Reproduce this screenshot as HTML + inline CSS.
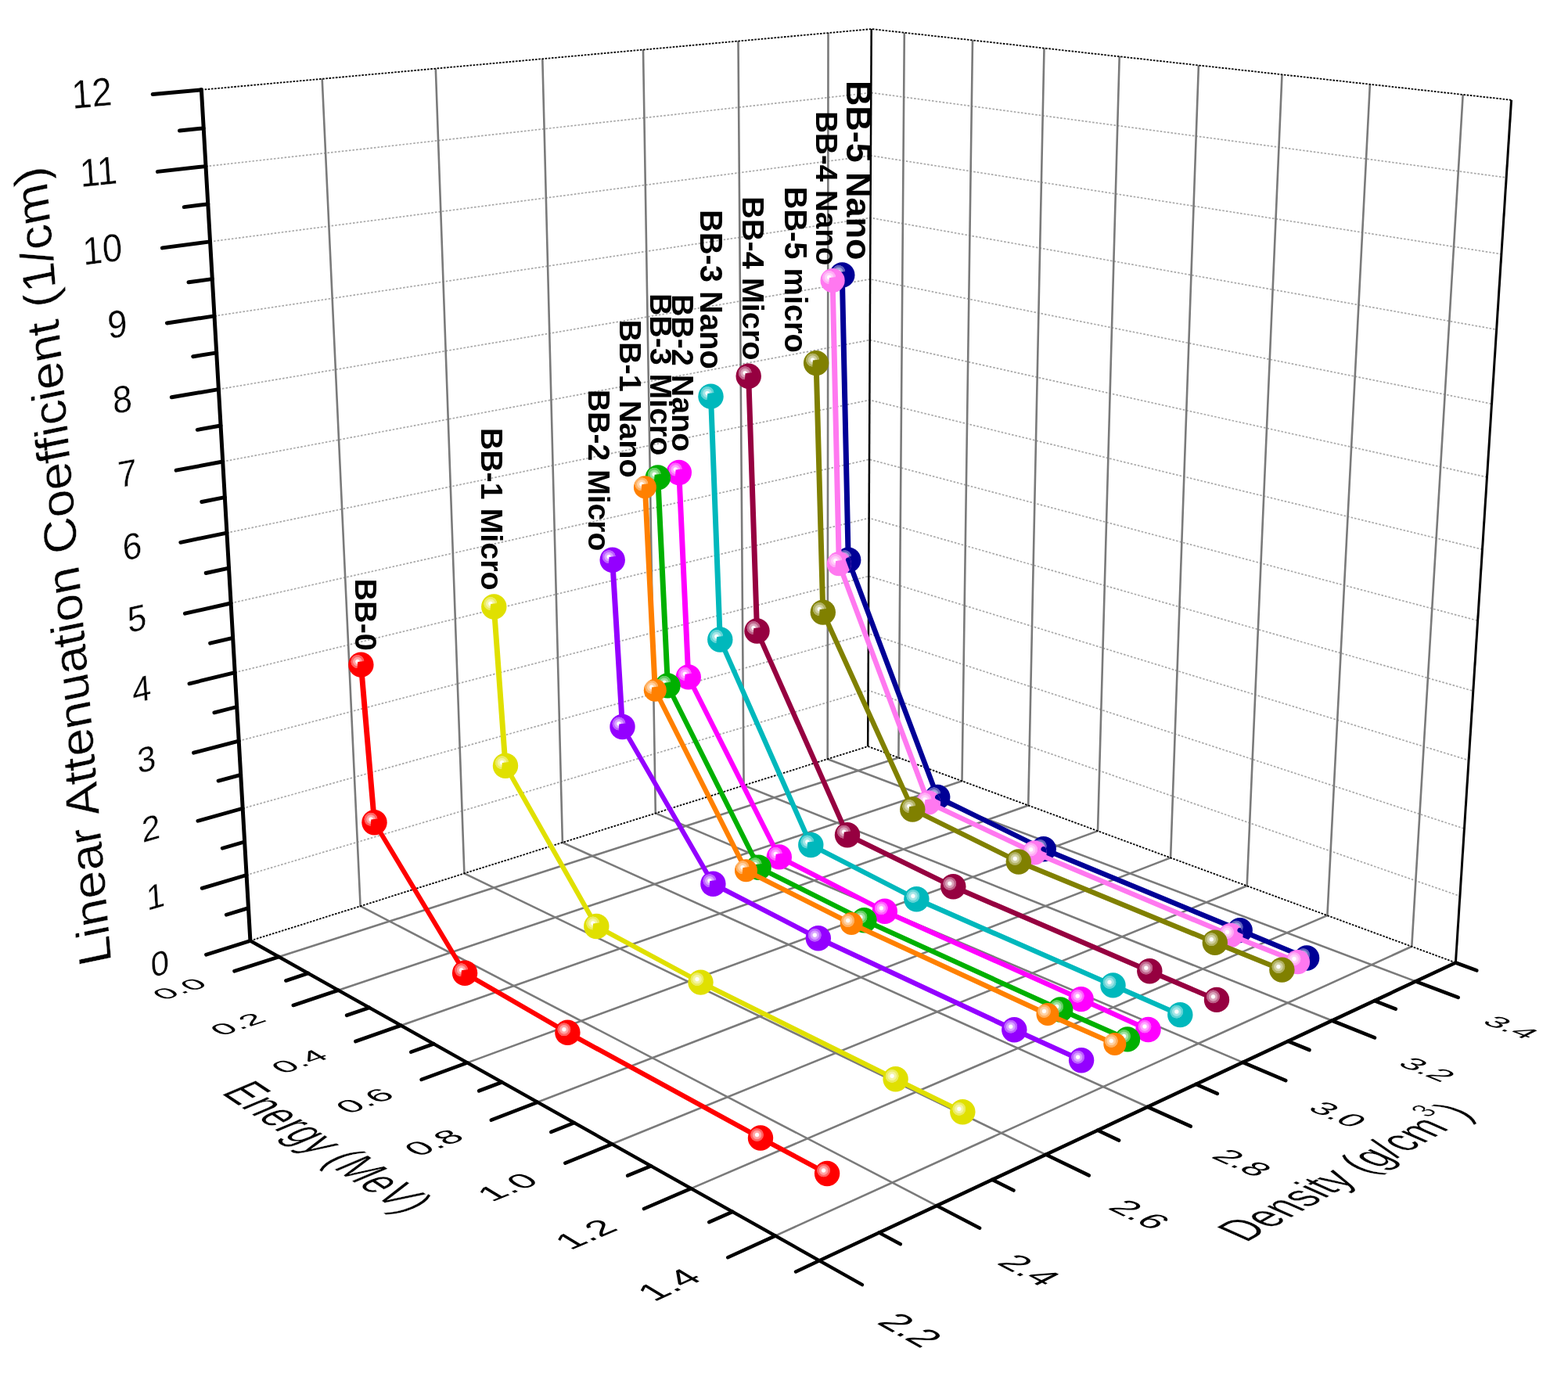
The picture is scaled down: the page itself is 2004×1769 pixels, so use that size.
<!DOCTYPE html>
<html><head><meta charset="utf-8"><title>Linear Attenuation Coefficient vs Energy and Density</title>
<style>
html,body{margin:0;padding:0;background:#fff}
#c{position:relative;width:2004px;height:1769px;overflow:hidden;background:#fff}
#c svg{position:absolute;left:0;top:0}
#c svg text{font-family:"Liberation Sans",sans-serif}
</style></head><body>
<div id="c">
<svg width="2004" height="1769" viewBox="0 0 2004 1769" role="img" aria-label="3D plot of linear attenuation coefficient versus energy and density">
<defs>
<radialGradient id="hg" gradientUnits="userSpaceOnUse" cx="-4.5" cy="-4.0" r="8.8">
<stop offset="0" stop-color="#fff" stop-opacity="1"/><stop offset="0.24" stop-color="#fff" stop-opacity="1"/>
<stop offset="0.36" stop-color="#fff" stop-opacity="0.68"/><stop offset="0.62" stop-color="#fff" stop-opacity="0.6"/>
<stop offset="0.7" stop-color="#fff" stop-opacity="0.4"/><stop offset="0.96" stop-color="#fff" stop-opacity="0.36"/>
<stop offset="1" stop-color="#fff" stop-opacity="0"/></radialGradient>
<path id="hc" d="M-4.2,-3.6 L4.3,-4.6 A8.8,8.8 0 1 0 -4.8,4.8 Z" fill="url(#hg)"/>
<circle id="hr" cx="-4.5" cy="-4.0" r="8.6" fill="url(#hg)"/>
<clipPath id="ck1"><circle cx="1072.3" cy="720.7" r="15.6"/></clipPath><clipPath id="ck2"><circle cx="1186.5" cy="1025.9" r="15.6"/></clipPath><clipPath id="ck3"><circle cx="1322.1" cy="1089.9" r="15.6"/></clipPath><clipPath id="ck4"><circle cx="1573.0" cy="1195.4" r="15.6"/></clipPath></defs>
<g fill="none" stroke="#a9a9a9" stroke-width="1.7" stroke-dasharray="2.6 2.0"><polyline points="315.0,1118.5 1109.5,882.3 1865.9,1145.4" /><polyline points="310.2,1033.3 1109.9,809.8 1871.5,1059.2" /><polyline points="305.2,947.1 1110.3,736.4 1877.1,971.8" /><polyline points="300.2,859.6 1110.6,662.2 1882.8,883.2" /><polyline points="295.1,771.0 1111.0,587.2 1888.6,793.3" /><polyline points="289.9,681.1 1111.4,511.3 1894.5,702.2" /><polyline points="284.7,590.0 1111.7,434.6 1900.5,609.9" /><polyline points="279.4,497.6 1112.1,356.9 1906.5,516.2" /><polyline points="274.0,403.9 1112.5,278.4 1912.7,421.2" /><polyline points="268.5,308.9 1112.9,198.9 1918.9,324.8" /><polyline points="263.0,212.6 1113.3,118.5 1925.2,227.0" /></g>
<g fill="none" stroke="#7a7a7a" stroke-width="2.6" stroke-linejoin="round"><polyline points="411.7,100.8 460.6,1158.2 1197.2,1541.1" /><polyline points="556.8,87.7 593.4,1116.4 1336.7,1475.8" /><polyline points="693.3,75.3 718.9,1076.9 1466.8,1414.8" /><polyline points="822.0,63.6 837.8,1039.4 1588.4,1357.9" /><polyline points="943.5,52.6 950.6,1003.9 1702.3,1304.5" /><polyline points="1058.5,42.1 1057.7,970.2 1809.3,1254.4" /><polyline points="1155.8,41.8 1148.4,968.4 356.4,1223.0" /><polyline points="1243.0,51.5 1229.5,998.3 432.3,1265.7" /><polyline points="1334.5,61.6 1314.2,1029.5 512.5,1310.7" /><polyline points="1430.7,72.3 1403.0,1062.1 597.2,1358.4" /><polyline points="1531.9,83.5 1496.1,1096.4 687.0,1408.8" /><polyline points="1638.5,95.3 1593.7,1132.3 782.1,1462.3" /><polyline points="1750.9,107.7 1696.4,1170.1 883.2,1519.1" /><polyline points="1869.7,120.9 1804.3,1209.8 990.8,1579.6" /></g>
<g fill="none" stroke="#000" stroke-width="1.8" stroke-dasharray="2.6 1.6"><polyline points="257.4,114.8 1113.7,37.1 1931.6,127.8" /><polyline points="319.9,1202.5 1109.2,954.0 1860.4,1230.5" /></g>
<line x1="1109.2" y1="954.0" x2="1113.7" y2="37.1" stroke="#000" stroke-width="2.5"/>
<line x1="1860.4" y1="1230.5" x2="1931.6" y2="127.8" stroke="#000" stroke-width="3.0"/>
<g fill="none" stroke="#000" stroke-linecap="round"><line x1="257.4" y1="114.8" x2="319.9" y2="1202.5" stroke-width="4.99"/><line x1="319.9" y1="1202.5" x2="1047.3" y2="1611.3" stroke-width="4.36"/><line x1="1047.3" y1="1611.3" x2="1860.4" y2="1230.5" stroke-width="4.53"/><line x1="319.9" y1="1202.5" x2="263.5" y2="1220.2" stroke-width="4.77"/><line x1="317.5" y1="1160.6" x2="289.3" y2="1169.2" stroke-width="4.78"/><line x1="315.0" y1="1118.5" x2="258.2" y2="1135.4" stroke-width="4.79"/><line x1="312.6" y1="1076.0" x2="284.2" y2="1084.2" stroke-width="4.80"/><line x1="310.2" y1="1033.3" x2="252.9" y2="1049.3" stroke-width="4.82"/><line x1="307.7" y1="990.3" x2="279.1" y2="998.1" stroke-width="4.83"/><line x1="305.2" y1="947.1" x2="247.5" y2="962.2" stroke-width="4.84"/><line x1="302.7" y1="903.5" x2="273.9" y2="910.8" stroke-width="4.85"/><line x1="300.2" y1="859.6" x2="242.0" y2="873.8" stroke-width="4.86"/><line x1="297.6" y1="815.4" x2="268.6" y2="822.2" stroke-width="4.87"/><line x1="295.1" y1="771.0" x2="236.4" y2="784.2" stroke-width="4.88"/><line x1="292.5" y1="726.2" x2="263.2" y2="732.5" stroke-width="4.89"/><line x1="289.9" y1="681.1" x2="230.8" y2="693.3" stroke-width="4.90"/><line x1="287.3" y1="635.7" x2="257.8" y2="641.5" stroke-width="4.91"/><line x1="284.7" y1="590.0" x2="225.1" y2="601.2" stroke-width="4.91"/><line x1="282.0" y1="544.0" x2="252.3" y2="549.3" stroke-width="4.92"/><line x1="279.4" y1="497.6" x2="219.3" y2="507.8" stroke-width="4.93"/><line x1="276.7" y1="450.9" x2="246.7" y2="455.7" stroke-width="4.94"/><line x1="274.0" y1="403.9" x2="213.4" y2="413.0" stroke-width="4.94"/><line x1="271.3" y1="356.6" x2="241.0" y2="360.8" stroke-width="4.95"/><line x1="268.5" y1="308.9" x2="207.4" y2="316.9" stroke-width="4.96"/><line x1="265.8" y1="260.9" x2="235.3" y2="264.6" stroke-width="4.96"/><line x1="263.0" y1="212.6" x2="201.4" y2="219.4" stroke-width="4.97"/><line x1="260.2" y1="163.9" x2="229.5" y2="167.0" stroke-width="4.97"/><line x1="257.4" y1="114.8" x2="195.2" y2="120.5" stroke-width="4.98"/><line x1="356.4" y1="1223.0" x2="299.6" y2="1241.2" stroke-width="4.76"/><line x1="393.8" y1="1244.0" x2="365.5" y2="1253.4" stroke-width="4.75"/><line x1="432.3" y1="1265.7" x2="374.9" y2="1284.9" stroke-width="4.74"/><line x1="471.9" y1="1287.9" x2="443.2" y2="1297.7" stroke-width="4.73"/><line x1="512.5" y1="1310.7" x2="454.5" y2="1331.1" stroke-width="4.72"/><line x1="554.3" y1="1334.2" x2="525.3" y2="1344.6" stroke-width="4.71"/><line x1="597.2" y1="1358.4" x2="538.6" y2="1379.9" stroke-width="4.69"/><line x1="641.4" y1="1383.2" x2="612.2" y2="1394.3" stroke-width="4.68"/><line x1="687.0" y1="1408.8" x2="627.8" y2="1431.7" stroke-width="4.66"/><line x1="733.8" y1="1435.2" x2="704.3" y2="1446.9" stroke-width="4.65"/><line x1="782.1" y1="1462.3" x2="722.4" y2="1486.6" stroke-width="4.63"/><line x1="831.9" y1="1490.3" x2="802.1" y2="1502.7" stroke-width="4.61"/><line x1="883.2" y1="1519.1" x2="823.0" y2="1545.0" stroke-width="4.59"/><line x1="936.2" y1="1548.9" x2="906.2" y2="1562.1" stroke-width="4.57"/><line x1="990.8" y1="1579.6" x2="930.2" y2="1607.2" stroke-width="4.55"/><line x1="1047.3" y1="1611.3" x2="1017.1" y2="1625.5" stroke-width="4.53"/><line x1="1047.3" y1="1611.3" x2="1102.0" y2="1642.1" stroke-width="4.36"/><line x1="1123.6" y1="1575.6" x2="1150.9" y2="1590.3" stroke-width="4.40"/><line x1="1197.2" y1="1541.1" x2="1252.2" y2="1569.7" stroke-width="4.44"/><line x1="1268.2" y1="1507.9" x2="1295.5" y2="1521.6" stroke-width="4.47"/><line x1="1336.7" y1="1475.8" x2="1391.8" y2="1502.4" stroke-width="4.50"/><line x1="1402.9" y1="1444.8" x2="1430.2" y2="1457.6" stroke-width="4.53"/><line x1="1466.8" y1="1414.8" x2="1521.8" y2="1439.7" stroke-width="4.56"/><line x1="1528.6" y1="1385.9" x2="1555.9" y2="1397.8" stroke-width="4.58"/><line x1="1588.4" y1="1357.9" x2="1643.3" y2="1381.2" stroke-width="4.60"/><line x1="1646.3" y1="1330.8" x2="1673.5" y2="1342.0" stroke-width="4.62"/><line x1="1702.3" y1="1304.5" x2="1757.0" y2="1326.3" stroke-width="4.64"/><line x1="1756.7" y1="1279.1" x2="1783.7" y2="1289.6" stroke-width="4.66"/><line x1="1809.3" y1="1254.4" x2="1863.6" y2="1274.9" stroke-width="4.68"/><line x1="1860.4" y1="1230.5" x2="1887.3" y2="1240.4" stroke-width="4.69"/></g>
<g><g stroke="#000096" stroke-linecap="round"><line x1="1076.3" y1="351.5" x2="1084.2" y2="715.7" stroke-width="7.00"/><line x1="1084.2" y1="715.7" x2="1198.2" y2="1018.9" stroke-width="6.55"/><line x1="1198.2" y1="1018.9" x2="1333.7" y2="1085.3" stroke-width="6.29"/><line x1="1333.7" y1="1085.3" x2="1584.7" y2="1189.1" stroke-width="6.47"/><line x1="1584.7" y1="1189.1" x2="1670.1" y2="1224.5" stroke-width="6.46"/></g><circle cx="1076.3" cy="351.5" r="16.2" fill="#000096"/><use href="#hc" x="1076.3" y="351.5"/><circle cx="1084.2" cy="715.7" r="16.2" fill="#000096"/><use href="#hc" x="1084.2" y="715.7"/><circle cx="1198.2" cy="1018.9" r="16.2" fill="#000096"/><use href="#hc" x="1198.2" y="1018.9"/><circle cx="1333.7" cy="1085.3" r="16.2" fill="#000096"/><use href="#hr" x="1333.7" y="1085.3"/><circle cx="1584.7" cy="1189.1" r="16.2" fill="#000096"/><use href="#hr" x="1584.7" y="1189.1"/><circle cx="1670.1" cy="1224.5" r="16.2" fill="#000096"/><use href="#hr" x="1670.1" y="1224.5"/></g><g><g stroke="#ff78f0" stroke-linecap="round"><line x1="1064.1" y1="358.5" x2="1072.3" y2="720.7" stroke-width="7.00"/><line x1="1072.3" y1="720.7" x2="1186.5" y2="1025.9" stroke-width="6.56"/><line x1="1186.5" y1="1025.9" x2="1322.1" y2="1089.9" stroke-width="6.33"/><line x1="1322.1" y1="1089.9" x2="1573.0" y2="1195.4" stroke-width="6.45"/><line x1="1573.0" y1="1195.4" x2="1658.5" y2="1229.6" stroke-width="6.50"/></g><circle cx="1064.1" cy="358.5" r="15.6" fill="#ff78f0"/><use href="#hc" x="1064.1" y="358.5"/><circle cx="1072.3" cy="720.7" r="15.6" fill="#ff78f0"/><use href="#hc" x="1072.3" y="720.7"/><circle cx="1186.5" cy="1025.9" r="15.6" fill="#ff78f0"/><use href="#hc" x="1186.5" y="1025.9"/><circle cx="1322.1" cy="1089.9" r="15.6" fill="#ff78f0"/><use href="#hr" x="1322.1" y="1089.9"/><circle cx="1573.0" cy="1195.4" r="15.6" fill="#ff78f0"/><use href="#hr" x="1573.0" y="1195.4"/><circle cx="1658.5" cy="1229.6" r="15.6" fill="#ff78f0"/><use href="#hr" x="1658.5" y="1229.6"/><line x1="1084.2" y1="715.7" x2="1198.2" y2="1018.9" stroke="#000096" stroke-width="6.55" stroke-linecap="round" clip-path="url(#ck1)"/><line x1="1198.2" y1="1018.9" x2="1333.7" y2="1085.3" stroke="#000096" stroke-width="6.29" stroke-linecap="round" clip-path="url(#ck2)"/><line x1="1333.7" y1="1085.3" x2="1584.7" y2="1189.1" stroke="#000096" stroke-width="6.47" stroke-linecap="round" clip-path="url(#ck3)"/><line x1="1584.7" y1="1189.1" x2="1670.1" y2="1224.5" stroke="#000096" stroke-width="6.46" stroke-linecap="round" clip-path="url(#ck4)"/></g><g><g stroke="#808000" stroke-linecap="round"><line x1="1043.1" y1="464.1" x2="1051.8" y2="782.6" stroke-width="7.00"/><line x1="1051.8" y1="782.6" x2="1166.3" y2="1034.5" stroke-width="6.37"/><line x1="1166.3" y1="1034.5" x2="1301.8" y2="1101.5" stroke-width="6.27"/><line x1="1301.8" y1="1101.5" x2="1552.8" y2="1204.7" stroke-width="6.47"/><line x1="1552.8" y1="1204.7" x2="1638.4" y2="1239.6" stroke-width="6.48"/></g><circle cx="1043.1" cy="464.1" r="16.2" fill="#808000"/><use href="#hc" x="1043.1" y="464.1"/><circle cx="1051.8" cy="782.6" r="16.2" fill="#808000"/><use href="#hc" x="1051.8" y="782.6"/><circle cx="1166.3" cy="1034.5" r="16.2" fill="#808000"/><use href="#hc" x="1166.3" y="1034.5"/><circle cx="1301.8" cy="1101.5" r="16.2" fill="#808000"/><use href="#hr" x="1301.8" y="1101.5"/><circle cx="1552.8" cy="1204.7" r="16.2" fill="#808000"/><use href="#hr" x="1552.8" y="1204.7"/><circle cx="1638.4" cy="1239.6" r="16.2" fill="#808000"/><use href="#hr" x="1638.4" y="1239.6"/></g><g><g stroke="#960040" stroke-linecap="round"><line x1="956.7" y1="480.8" x2="967.5" y2="806.5" stroke-width="7.00"/><line x1="967.5" y1="806.5" x2="1083.0" y2="1067.2" stroke-width="6.40"/><line x1="1083.0" y1="1067.2" x2="1218.3" y2="1133.3" stroke-width="6.29"/><line x1="1218.3" y1="1133.3" x2="1469.3" y2="1241.2" stroke-width="6.43"/><line x1="1469.3" y1="1241.2" x2="1555.0" y2="1277.9" stroke-width="6.43"/></g><circle cx="956.7" cy="480.8" r="16.2" fill="#960040"/><use href="#hc" x="956.7" y="480.8"/><circle cx="967.5" cy="806.5" r="16.2" fill="#960040"/><use href="#hc" x="967.5" y="806.5"/><circle cx="1083.0" cy="1067.2" r="16.2" fill="#960040"/><use href="#hc" x="1083.0" y="1067.2"/><circle cx="1218.3" cy="1133.3" r="16.2" fill="#960040"/><use href="#hr" x="1218.3" y="1133.3"/><circle cx="1469.3" cy="1241.2" r="16.2" fill="#960040"/><use href="#hr" x="1469.3" y="1241.2"/><circle cx="1555.0" cy="1277.9" r="16.2" fill="#960040"/><use href="#hr" x="1555.0" y="1277.9"/></g><g><g stroke="#00b8bc" stroke-linecap="round"><line x1="908.5" y1="506.6" x2="920.3" y2="817.5" stroke-width="6.99"/><line x1="920.3" y1="817.5" x2="1036.3" y2="1080.0" stroke-width="6.40"/><line x1="1036.3" y1="1080.0" x2="1171.4" y2="1149.3" stroke-width="6.23"/><line x1="1171.4" y1="1149.3" x2="1422.5" y2="1259.4" stroke-width="6.41"/><line x1="1422.5" y1="1259.4" x2="1508.3" y2="1297.1" stroke-width="6.41"/></g><circle cx="908.5" cy="506.6" r="16.2" fill="#00b8bc"/><use href="#hc" x="908.5" y="506.6"/><circle cx="920.3" cy="817.5" r="16.2" fill="#00b8bc"/><use href="#hc" x="920.3" y="817.5"/><circle cx="1036.3" cy="1080.0" r="16.2" fill="#00b8bc"/><use href="#hc" x="1036.3" y="1080.0"/><circle cx="1171.4" cy="1149.3" r="16.2" fill="#00b8bc"/><use href="#hr" x="1171.4" y="1149.3"/><circle cx="1422.5" cy="1259.4" r="16.2" fill="#00b8bc"/><use href="#hr" x="1422.5" y="1259.4"/><circle cx="1508.3" cy="1297.1" r="16.2" fill="#00b8bc"/><use href="#hr" x="1508.3" y="1297.1"/></g><g><g stroke="#ff00ff" stroke-linecap="round"><line x1="867.8" y1="604.0" x2="879.8" y2="865.4" stroke-width="6.99"/><line x1="879.8" y1="865.4" x2="995.8" y2="1095.4" stroke-width="6.25"/><line x1="995.8" y1="1095.4" x2="1130.8" y2="1164.8" stroke-width="6.23"/><line x1="1130.8" y1="1164.8" x2="1381.7" y2="1277.1" stroke-width="6.39"/><line x1="1381.7" y1="1277.1" x2="1467.5" y2="1316.0" stroke-width="6.37"/></g><circle cx="867.8" cy="604.0" r="16.2" fill="#ff00ff"/><use href="#hc" x="867.8" y="604.0"/><circle cx="879.8" cy="865.4" r="16.2" fill="#ff00ff"/><use href="#hc" x="879.8" y="865.4"/><circle cx="995.8" cy="1095.4" r="16.2" fill="#ff00ff"/><use href="#hc" x="995.8" y="1095.4"/><circle cx="1130.8" cy="1164.8" r="16.2" fill="#ff00ff"/><use href="#hr" x="1130.8" y="1164.8"/><circle cx="1381.7" cy="1277.1" r="16.2" fill="#ff00ff"/><use href="#hr" x="1381.7" y="1277.1"/><circle cx="1467.5" cy="1316.0" r="16.2" fill="#ff00ff"/><use href="#hr" x="1467.5" y="1316.0"/></g><g><g stroke="#00b000" stroke-linecap="round"><line x1="840.8" y1="610.4" x2="853.4" y2="876.4" stroke-width="6.99"/><line x1="853.4" y1="876.4" x2="969.6" y2="1108.7" stroke-width="6.26"/><line x1="969.6" y1="1108.7" x2="1104.4" y2="1176.2" stroke-width="6.26"/><line x1="1104.4" y1="1176.2" x2="1355.2" y2="1290.5" stroke-width="6.37"/><line x1="1355.2" y1="1290.5" x2="1441.0" y2="1328.4" stroke-width="6.40"/></g><circle cx="840.8" cy="610.4" r="16.2" fill="#00b000"/><use href="#hc" x="840.8" y="610.4"/><circle cx="853.4" cy="876.4" r="16.2" fill="#00b000"/><use href="#hc" x="853.4" y="876.4"/><circle cx="969.6" cy="1108.7" r="16.2" fill="#00b000"/><use href="#hc" x="969.6" y="1108.7"/><circle cx="1104.4" cy="1176.2" r="16.2" fill="#00b000"/><use href="#hr" x="1104.4" y="1176.2"/><circle cx="1355.2" cy="1290.5" r="16.2" fill="#00b000"/><use href="#hr" x="1355.2" y="1290.5"/><circle cx="1441.0" cy="1328.4" r="16.2" fill="#00b000"/><use href="#hr" x="1441.0" y="1328.4"/></g><g><g stroke="#ff8000" stroke-linecap="round"><line x1="824.4" y1="622.8" x2="837.3" y2="882.2" stroke-width="6.99"/><line x1="837.3" y1="882.2" x2="953.5" y2="1112.7" stroke-width="6.25"/><line x1="953.5" y1="1112.7" x2="1088.2" y2="1180.6" stroke-width="6.25"/><line x1="1088.2" y1="1180.6" x2="1339.0" y2="1296.5" stroke-width="6.35"/><line x1="1339.0" y1="1296.5" x2="1424.8" y2="1334.4" stroke-width="6.40"/></g><circle cx="824.4" cy="622.8" r="14.5" fill="#ff8000"/><use href="#hc" x="824.4" y="622.8"/><circle cx="837.3" cy="882.2" r="14.5" fill="#ff8000"/><use href="#hc" x="837.3" y="882.2"/><circle cx="953.5" cy="1112.7" r="14.5" fill="#ff8000"/><use href="#hc" x="953.5" y="1112.7"/><circle cx="1088.2" cy="1180.6" r="14.5" fill="#ff8000"/><use href="#hr" x="1088.2" y="1180.6"/><circle cx="1339.0" cy="1296.5" r="14.5" fill="#ff8000"/><use href="#hr" x="1339.0" y="1296.5"/><circle cx="1424.8" cy="1334.4" r="14.5" fill="#ff8000"/><use href="#hr" x="1424.8" y="1334.4"/></g><g><g stroke="#9400ff" stroke-linecap="round"><line x1="782.7" y1="715.7" x2="795.5" y2="929.0" stroke-width="6.99"/><line x1="795.5" y1="929.0" x2="911.4" y2="1129.7" stroke-width="6.06"/><line x1="911.4" y1="1129.7" x2="1045.8" y2="1199.2" stroke-width="6.22"/><line x1="1045.8" y1="1199.2" x2="1296.3" y2="1316.2" stroke-width="6.34"/><line x1="1296.3" y1="1316.2" x2="1382.1" y2="1355.2" stroke-width="6.37"/></g><circle cx="782.7" cy="715.7" r="16.2" fill="#9400ff"/><use href="#hc" x="782.7" y="715.7"/><circle cx="795.5" cy="929.0" r="16.2" fill="#9400ff"/><use href="#hc" x="795.5" y="929.0"/><circle cx="911.4" cy="1129.7" r="16.2" fill="#9400ff"/><use href="#hc" x="911.4" y="1129.7"/><circle cx="1045.8" cy="1199.2" r="16.2" fill="#9400ff"/><use href="#hr" x="1045.8" y="1199.2"/><circle cx="1296.3" cy="1316.2" r="16.2" fill="#9400ff"/><use href="#hr" x="1296.3" y="1316.2"/><circle cx="1382.1" cy="1355.2" r="16.2" fill="#9400ff"/><use href="#hr" x="1382.1" y="1355.2"/></g><g><g stroke="#e0e000" stroke-linecap="round"><line x1="631.3" y1="775.5" x2="646.0" y2="978.7" stroke-width="6.98"/><line x1="646.0" y1="978.7" x2="762.3" y2="1184.0" stroke-width="6.09"/><line x1="762.3" y1="1184.0" x2="895.5" y2="1255.6" stroke-width="6.17"/><line x1="895.5" y1="1255.6" x2="1144.6" y2="1379.3" stroke-width="6.27"/><line x1="1144.6" y1="1379.3" x2="1230.3" y2="1421.3" stroke-width="6.29"/></g><circle cx="631.3" cy="775.5" r="16.2" fill="#e0e000"/><use href="#hc" x="631.3" y="775.5"/><circle cx="646.0" cy="978.7" r="16.2" fill="#e0e000"/><use href="#hc" x="646.0" y="978.7"/><circle cx="762.3" cy="1184.0" r="16.2" fill="#e0e000"/><use href="#hc" x="762.3" y="1184.0"/><circle cx="895.5" cy="1255.6" r="16.2" fill="#e0e000"/><use href="#hr" x="895.5" y="1255.6"/><circle cx="1144.6" cy="1379.3" r="16.2" fill="#e0e000"/><use href="#hr" x="1144.6" y="1379.3"/><circle cx="1230.3" cy="1421.3" r="16.2" fill="#e0e000"/><use href="#hr" x="1230.3" y="1421.3"/></g><g><g stroke="#ff0000" stroke-linecap="round"><line x1="461.4" y1="849.6" x2="478.5" y2="1051.2" stroke-width="6.97"/><line x1="478.5" y1="1051.2" x2="594.1" y2="1243.8" stroke-width="6.00"/><line x1="594.1" y1="1243.8" x2="725.4" y2="1319.8" stroke-width="6.06"/><line x1="725.4" y1="1319.8" x2="972.0" y2="1454.5" stroke-width="6.14"/><line x1="972.0" y1="1454.5" x2="1057.1" y2="1500.0" stroke-width="6.17"/></g><circle cx="461.4" cy="849.6" r="16.2" fill="#ff0000"/><use href="#hc" x="461.4" y="849.6"/><circle cx="478.5" cy="1051.2" r="16.2" fill="#ff0000"/><use href="#hc" x="478.5" y="1051.2"/><circle cx="594.1" cy="1243.8" r="16.2" fill="#ff0000"/><use href="#hc" x="594.1" y="1243.8"/><circle cx="725.4" cy="1319.8" r="16.2" fill="#ff0000"/><use href="#hr" x="725.4" y="1319.8"/><circle cx="972.0" cy="1454.5" r="16.2" fill="#ff0000"/><use href="#hr" x="972.0" y="1454.5"/><circle cx="1057.1" cy="1500.0" r="16.2" fill="#ff0000"/><use href="#hr" x="1057.1" y="1500.0"/></g>
<g font-family="'Liberation Sans',sans-serif" font-weight="bold" fill="#000"><text transform="translate(454.0,739.5) rotate(90)" font-size="39.60">BB-0</text><text transform="translate(615.0,546.7) rotate(90)" font-size="39.40">BB-1 Micro</text><text transform="translate(751.6,498.1) rotate(90)" font-size="39.10">BB-2 Micro</text><text transform="translate(792.3,408.4) rotate(90)" font-size="39.60">BB-1 Nano</text><text transform="translate(831.1,374.9) rotate(90)" font-size="39.30">BB-3 Micro</text><text transform="translate(859.4,375.9) rotate(90)" font-size="39.40">BB-2 Nano</text><text transform="translate(895.1,267.9) rotate(90)" font-size="39.90">BB-3 Nano</text><text transform="translate(948.6,251.1) rotate(90)" font-size="39.70">BB-4 Micro</text><text transform="translate(1003.1,238.6) rotate(90)" font-size="39.80">BB-5 micro</text><text transform="translate(1042.9,142.2) rotate(90)" font-size="38.60">BB-4 Nano</text><text transform="translate(1081.7,102.9) rotate(90)" font-size="44.90">BB-5 Nano</text></g>
<g font-family="'Liberation Sans',sans-serif" fill="#000" stroke="#fff" stroke-width="0.4" stroke-linejoin="round"><text transform="matrix(0.9072,-0.2856,0.0620,0.9424,193.80,1250.03)" font-size="46" stroke-width="0.3">0</text>
<text transform="matrix(0.9144,-0.2718,0.0629,0.9552,187.99,1164.21)" font-size="46" stroke-width="0.3">1</text>
<text transform="matrix(0.9217,-0.2577,0.0637,0.9683,182.10,1077.20)" font-size="46" stroke-width="0.3">2</text>
<text transform="matrix(0.9292,-0.2431,0.0646,0.9817,176.13,989.00)" font-size="46" stroke-width="0.3">3</text>
<text transform="matrix(0.9367,-0.2281,0.0655,0.9954,170.08,899.57)" font-size="46" stroke-width="0.3">4</text>
<text transform="matrix(0.9444,-0.2127,0.0664,1.0093,163.94,808.88)" font-size="46" stroke-width="0.3">5</text>
<text transform="matrix(0.9521,-0.1968,0.0674,1.0236,157.71,716.91)" font-size="46" stroke-width="0.3">6</text>
<text transform="matrix(0.9601,-0.1804,0.0683,1.0381,151.40,623.64)" font-size="46" stroke-width="0.3">7</text>
<text transform="matrix(0.9681,-0.1635,0.0693,1.0530,144.99,529.02)" font-size="46" stroke-width="0.3">8</text>
<text transform="matrix(0.9763,-0.1462,0.0703,1.0682,138.50,433.05)" font-size="46" stroke-width="0.3">9</text>
<text transform="matrix(0.9846,-0.1283,0.0713,1.0837,106.72,338.96)" font-size="46" stroke-width="0.3">10</text>
<text transform="matrix(0.9930,-0.1099,0.0724,1.0995,103.20,239.32)" font-size="46" stroke-width="0.3">11</text>
<text transform="matrix(1.0016,-0.0909,0.0734,1.1157,92.81,138.95)" font-size="46" stroke-width="0.3">12</text>
<text transform="matrix(1.1774,-0.3784,0.6844,0.4134,208.43,1278.69)" font-size="36" stroke="none">0.0</text>
<text transform="matrix(1.1919,-0.3998,0.7229,0.4366,283.04,1324.51)" font-size="36" stroke="none">0.2</text>
<text transform="matrix(1.2062,-0.4231,0.7647,0.4619,361.94,1372.97)" font-size="36" stroke="none">0.4</text>
<text transform="matrix(1.2201,-0.4485,0.8102,0.4894,445.53,1424.30)" font-size="36" stroke="none">0.6</text>
<text transform="matrix(1.2335,-0.4763,0.8600,0.5194,534.22,1478.77)" font-size="36" stroke="none">0.8</text>
<text transform="matrix(1.2463,-0.5067,0.9145,0.5523,628.50,1536.66)" font-size="36" stroke="none">1.0</text>
<text transform="matrix(1.2581,-0.5400,0.9743,0.5885,728.91,1598.33)" font-size="36" stroke="none">1.2</text>
<text transform="matrix(1.2689,-0.5768,1.0402,0.6283,836.08,1664.14)" font-size="36" stroke="none">1.4</text>
<text transform="matrix(1.1706,0.6580,-1.1995,0.6043,1119.30,1690.88)" font-size="36" stroke="none">2.2</text>
<text transform="matrix(1.1733,0.6099,-1.1113,0.5599,1272.38,1614.92)" font-size="36" stroke="none">2.4</text>
<text transform="matrix(1.1725,0.5669,-1.0324,0.5201,1414.39,1544.46)" font-size="36" stroke="none">2.6</text>
<text transform="matrix(1.1690,0.5283,-0.9617,0.4845,1546.49,1478.92)" font-size="36" stroke="none">2.8</text>
<text transform="matrix(1.1633,0.4936,-0.8980,0.4524,1669.68,1417.80)" font-size="36" stroke="none">3.0</text>
<text transform="matrix(1.1559,0.4621,-0.8404,0.4234,1784.83,1360.66)" font-size="36" stroke="none">3.2</text>
<text transform="matrix(1.1470,0.4336,-0.7882,0.3971,1892.71,1307.14)" font-size="36" stroke="none">3.4</text>
<text transform="matrix(0.6763,0.4509,-1.1033,0.4674,281.29,1397.31)" font-size="56">Energy (MeV)</text>
<text transform="matrix(0.7653,-0.4273,1.0496,0.4671,1592.37,1588.46)" font-size="56">Density (g/cm<tspan font-size="32.48" dy="-28.56">3</tspan><tspan dy="28.56" dx="4.2">)</tspan></text>
<text transform="matrix(-0.0839,-1.0173,0.9465,-0.1965,142.34,1229.25)" font-size="62">Linear Attenuation Coefficient (1/cm)</text></g>
</svg>

</div>
</body></html>
